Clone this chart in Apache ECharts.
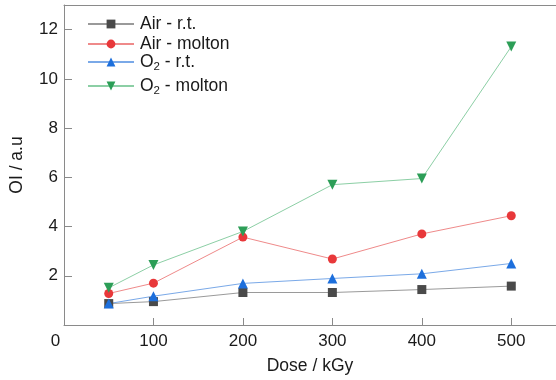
<!DOCTYPE html>
<html>
<head>
<meta charset="utf-8">
<script src="https://cdn.jsdelivr.net/npm/echarts@6/dist/echarts.min.js"></script>
<style>
  html, body { margin: 0; padding: 0; background: #fff; }
  #chart { width: 556px; height: 380px; }
</style>
</head>
<body>
<div id="chart"></div>
<script>
// Dose (kGy) on x, OI (a.u.) on y
const doses = [50, 100, 200, 300, 400, 500];
const airRt = [0.87, 0.95, 1.32, 1.32, 1.44, 1.58];
const airMolton = [1.28, 1.70, 3.57, 2.68, 3.70, 4.44];
const o2Rt = [0.87, 1.17, 1.69, 1.89, 2.08, 2.50];
const o2Molton = [1.51, 2.44, 3.80, 5.70, 5.95, 11.31];
const seriesNames = ['Air - r.t.', 'Air - molton', 'O2 - r.t.', 'O2 - molton'];

const FONT = 'Liberation Sans, Arial, sans-serif';
const AXIS_COLOR = '#8a8a8a';
const TEXT_COLOR = '#1a1a1a';

function pairs(ys) {
    return doses.map((d, i) => [d, ys[i]]);
}

function makeSeries(name, ys, symbol, size, markColor, lineColor) {
    return {
        name: name,
        type: 'line',
        data: pairs(ys),
        symbol: symbol,
        symbolSize: size,
        showAllSymbol: true,
        itemStyle: { color: markColor },
        lineStyle: { width: 1, color: lineColor },
        emphasis: { disabled: true }
    };
}

// one legend per entry so each row sits where the reference has it
function makeLegend(name, top) {
    return {
        orient: 'vertical',
        left: 82,
        top: top,
        itemWidth: 46,
        itemHeight: 11,
        textStyle: {
            fontFamily: FONT, fontSize: 17.5, color: TEXT_COLOR, padding: [0, 0, 0, 1],
            rich: {
                s: { fontFamily: FONT, fontSize: 11.5, verticalAlign: 'bottom', padding: [9, 0, 0, 0], color: TEXT_COLOR },
                t: { fontFamily: FONT, fontSize: 17.5, color: TEXT_COLOR }
            }
        },
        formatter: function (n) {
            if (n.indexOf('O2') === 0) {
                return '{t|O}{s|2}{t|' + n.slice(2) + '}';
            }
            return n;
        },
        data: [name]
    };
}

const chart = echarts.init(document.getElementById('chart'));

const option = {
    animation: false,
    backgroundColor: '#fff',
    textStyle: { fontFamily: FONT },
    grid: { left: 63, top: 5, right: 0, bottom: 55 },
    legend: [
        makeLegend(seriesNames[0], 10),
        makeLegend(seriesNames[1], 30),
        makeLegend(seriesNames[2], 48),
        makeLegend(seriesNames[3], 72)
    ],
    xAxis: [{
        type: 'value',
        min: 0,
        max: 550,
        interval: 100,
        name: 'Dose / kGy',
        nameLocation: 'middle',
        nameGap: 32,
        nameTextStyle: { fontFamily: FONT, fontSize: 17.5, color: TEXT_COLOR },
        axisLine: { show: true, lineStyle: { color: AXIS_COLOR } },
        axisTick: { show: true, inside: true, length: 7, lineStyle: { color: AXIS_COLOR } },
        axisLabel: {
            fontFamily: FONT, fontSize: 17, color: TEXT_COLOR, margin: 8,
            showMaxLabel: false,
            formatter: function (v) { return v === 0 ? '{z|0}' : String(v); },
            rich: { z: { fontFamily: FONT, fontSize: 17, color: TEXT_COLOR, padding: [0, 17, 0, 0] } }
        },
        splitLine: { show: false }
    }, {
        // top frame line only
        type: 'value',
        position: 'top',
        min: 0,
        max: 550,
        axisLine: { show: true, lineStyle: { color: AXIS_COLOR } },
        axisTick: { show: false },
        axisLabel: { show: false },
        splitLine: { show: false }
    }],
    yAxis: {
        type: 'value',
        min: 0,
        max: 13,
        interval: 2,
        name: 'OI / a.u',
        nameLocation: 'middle',
        nameGap: 38,
        nameTextStyle: { fontFamily: FONT, fontSize: 17.5, color: TEXT_COLOR },
        axisLine: { show: true, lineStyle: { color: AXIS_COLOR } },
        axisTick: { show: true, inside: true, length: 8, lineStyle: { color: AXIS_COLOR } },
        axisLabel: {
            fontFamily: FONT, fontSize: 17, color: TEXT_COLOR, margin: 6,
            showMinLabel: false, showMaxLabel: false
        },
        splitLine: { show: false }
    },
    series: [
        makeSeries(seriesNames[0], airRt, 'rect', 9, '#4a4a4a', '#9a9a9a'),
        makeSeries(seriesNames[1], airMolton, 'circle', 9, '#e8383a', '#ef8a8a'),
        makeSeries(seriesNames[2], o2Rt, 'triangle', 10, '#1d6fdc', '#7aa9e8'),
        makeSeries(seriesNames[3], o2Molton, 'path://M0,0 L10,0 L5,9 Z', 10, '#2c9e57', '#8ccfa5')
    ]
};

chart.setOption(option);
</script>
</body>
</html>
